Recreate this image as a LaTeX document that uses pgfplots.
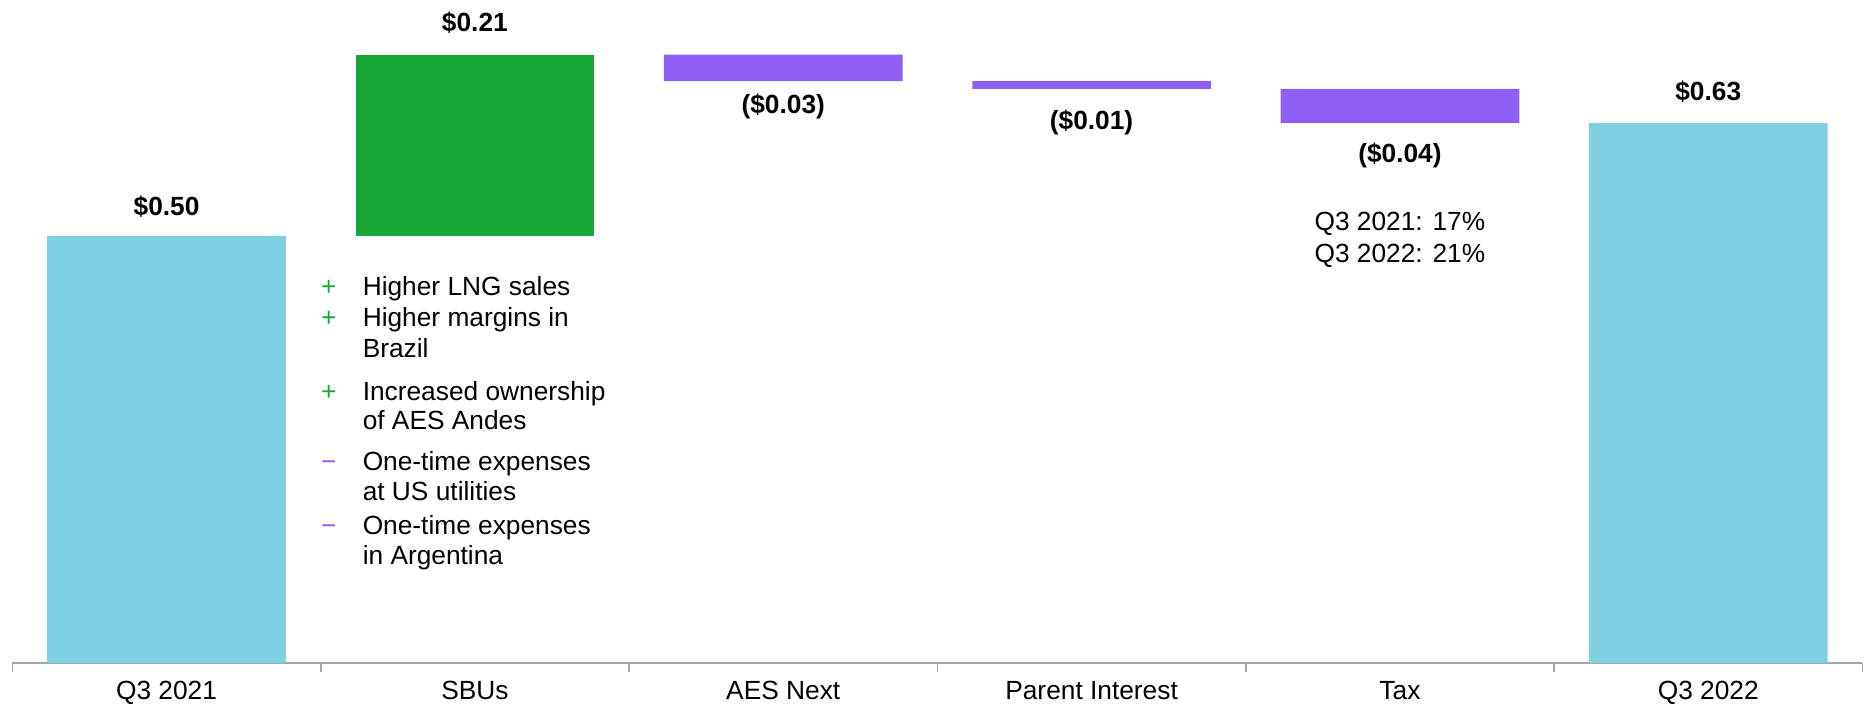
\documentclass[border=0pt]{standalone}
\usepackage{fontspec}
\setmainfont{Liberation Sans}
\usepackage{pgfplots}
\pgfplotsset{compat=1.18}
\definecolor{cblue}{HTML}{7FD0E3}
\definecolor{cgreen}{HTML}{17A738}
\definecolor{cpurple}{HTML}{8E5FF2}
\definecolor{axgray}{HTML}{A6A6A6}
\begin{document}
\begin{tikzpicture}[font=\fontsize{13.2}{16}\selectfont,
  lbl/.style={inner sep=0pt, text height=0.72em, text depth=0pt},
  val/.style={lbl, font=\fontsize{13.2}{16}\selectfont\bfseries, anchor=center},
  bul/.style={lbl, anchor=west}]
\begin{axis}[
  scale only axis, width=925bp, height=331.5bp,
  xmin=-0.5, xmax=5.5, ymin=0, ymax=0.776,
  ybar stacked, bar width=0.774,
  axis x line=bottom, axis y line=none,
  x axis line style={-, draw=axgray, line width=0.9bp},
  xtick={0,1,2,3,4,5},
  xticklabels={Q3 2021, SBUs, AES Next, Parent Interest, Tax, Q3 2022},
  major tick length=0pt,
  extra x ticks={-0.5,0.5,1.5,2.5,3.5,4.5,5.5},
  extra x tick labels={},
  extra x tick style={major tick length=4.5bp, tick align=outside, tick style={draw=axgray, line width=0.8bp}},
  ytick=\empty,
  xticklabel style={lbl, anchor=center, yshift=-14.5bp},
  clip=false,
]
% invisible base
\addplot[draw=none, fill=none] coordinates {(0,0) (1,0.500) (2,0.681) (3,0.672) (4,0.632) (5,0)};
% start / end totals
\addplot[draw=none, fill=cblue] coordinates {(0,0.500) (1,0) (2,0) (3,0) (4,0) (5,0.632)};
% increase
\addplot[draw=none, fill=cgreen] coordinates {(0,0) (1,0.212) (2,0) (3,0) (4,0) (5,0)};
% decreases
\addplot[draw=none, fill=cpurple] coordinates {(0,0) (1,0) (2,0.031) (3,0.009) (4,0.040) (5,0)};

\node[val] at (axis cs:0,0.5325) {\$0.50};
\node[val] at (axis cs:1,0.748) {\$0.21};
\node[val] at (axis cs:2,0.652) {(\$0.03)};
\node[val] at (axis cs:3,0.633) {(\$0.01)};
\node[val] at (axis cs:4,0.5946) {(\$0.04)};
\node[val] at (axis cs:5,0.667) {\$0.63};

\node[lbl, anchor=center] at (axis cs:4,0.515) {Q3 2021: 17\%};
\node[lbl, anchor=center] at (axis cs:4,0.477) {Q3 2022: 21\%};

\node[bul, anchor=center, text=cgreen] at (axis cs:0.526,0.4389) {+};
\node[bul] at (axis cs:0.635,0.4389) {Higher LNG sales};
\node[bul, anchor=center, text=cgreen] at (axis cs:0.526,0.4026) {+};
\node[bul] at (axis cs:0.635,0.4026) {Higher margins in};
\node[bul] at (axis cs:0.635,0.3663) {Brazil};
\node[bul, anchor=center, text=cgreen] at (axis cs:0.526,0.3160) {+};
\node[bul] at (axis cs:0.635,0.3160) {Increased ownership};
\node[bul] at (axis cs:0.635,0.2815) {of AES Andes};
\node[bul, anchor=center, text=cpurple] at (axis cs:0.526,0.2341) {−};
\node[bul] at (axis cs:0.635,0.2341) {One-time expenses};
\node[bul] at (axis cs:0.635,0.1990) {at US utilities};
\node[bul, anchor=center, text=cpurple] at (axis cs:0.526,0.1592) {−};
\node[bul] at (axis cs:0.635,0.1592) {One-time expenses};
\node[bul] at (axis cs:0.635,0.1241) {in Argentina};

\coordinate (bl) at (rel axis cs:0,0);
\coordinate (tr) at (rel axis cs:1,1);
\end{axis}
\pgfresetboundingbox
\path[use as bounding box] ([xshift=-6.2bp,yshift=-22.5bp]bl) rectangle ([xshift=1.8bp]tr);
\end{tikzpicture}
\end{document}
